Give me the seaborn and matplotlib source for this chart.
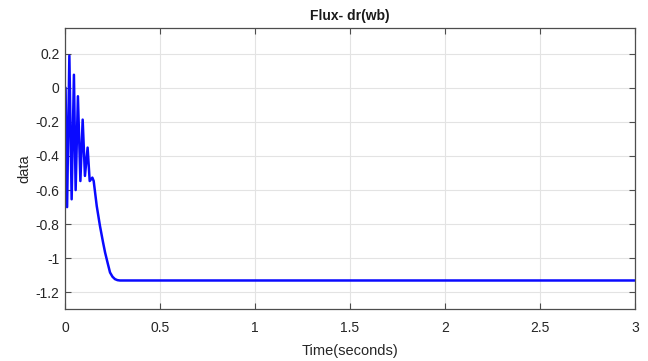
import matplotlib
matplotlib.use("Agg")
import matplotlib.pyplot as plt
import seaborn as sns
import pandas as pd

# Flux (d-axis rotor) response, sampled at the waveform's turning points
time_s = [0.000, 0.003, 0.011, 0.023, 0.035, 0.047, 0.056, 0.068, 0.081,
          0.093, 0.105, 0.119, 0.130, 0.144, 0.151, 0.167, 0.184,
          0.200, 0.211, 0.225, 0.237, 0.250, 0.263, 0.276, 0.289, 0.320,
          0.500, 1.000, 2.000, 3.000]
flux_dr = [0.000, 0.000, -0.700, 0.188, -0.654, 0.076, -0.600, -0.050, -0.547,
           -0.187, -0.517, -0.351, -0.547, -0.527, -0.547, -0.693, -0.810,
           -0.905, -0.966, -1.030, -1.083, -1.108, -1.122, -1.128, -1.130, -1.130,
           -1.130, -1.130, -1.130, -1.130]

x_ticks = [0, 0.5, 1, 1.5, 2, 2.5, 3]
x_tick_labels = ["0", "0.5", "1", "1.5", "2", "2.5", "3"]
y_ticks = [0.2, 0, -0.2, -0.4, -0.6, -0.8, -1, -1.2]
y_tick_labels = ["0.2", "0", "-0.2", "-0.4", "-0.6", "-0.8", "-1", "-1.2"]

df = pd.DataFrame({"Time(seconds)": time_s, "data": flux_dr})

sns.set_theme(style="whitegrid")
plt.rcParams["font.family"] = ["Liberation Sans", "DejaVu Sans"]

fig = plt.figure(figsize=(6.48, 3.61), dpi=100)
ax = fig.add_axes([0.1003, 0.1427, 0.8797, 0.7797])

sns.lineplot(data=df, x="Time(seconds)", y="data", ax=ax, color="#0a0aff",
             linewidth=1.8, estimator=None, sort=False)

ax.set_xlim(0, 3)
ax.set_ylim(-1.3, 0.35)
ax.set_xticks(x_ticks)
ax.set_xticklabels(x_tick_labels)
ax.set_yticks(y_ticks)
ax.set_yticklabels(y_tick_labels)

ax.set_facecolor("white")
ax.grid(True, color="#e3e3e3", linewidth=0.8)
for side in ["top", "bottom", "left", "right"]:
    ax.spines[side].set_visible(True)
    ax.spines[side].set_color("#4d4d4d")
    ax.spines[side].set_linewidth(0.9)

ax.tick_params(axis="both", which="both", direction="in", length=4, width=0.8,
               color="#4d4d4d", labelsize=10, labelcolor="#262626",
               top=True, right=True, bottom=True, left=True, pad=8)
ax.tick_params(axis="y", pad=4)

ax.set_title("Flux- dr(wb)", fontsize=10, fontweight="bold", color="#1a1a1a", pad=6)
ax.set_xlabel("Time(seconds)", fontsize=10.5, color="#262626", labelpad=7)
ax.set_ylabel("data", fontsize=10.5, color="#262626", labelpad=3)

fig.savefig("out.png", dpi=100)
